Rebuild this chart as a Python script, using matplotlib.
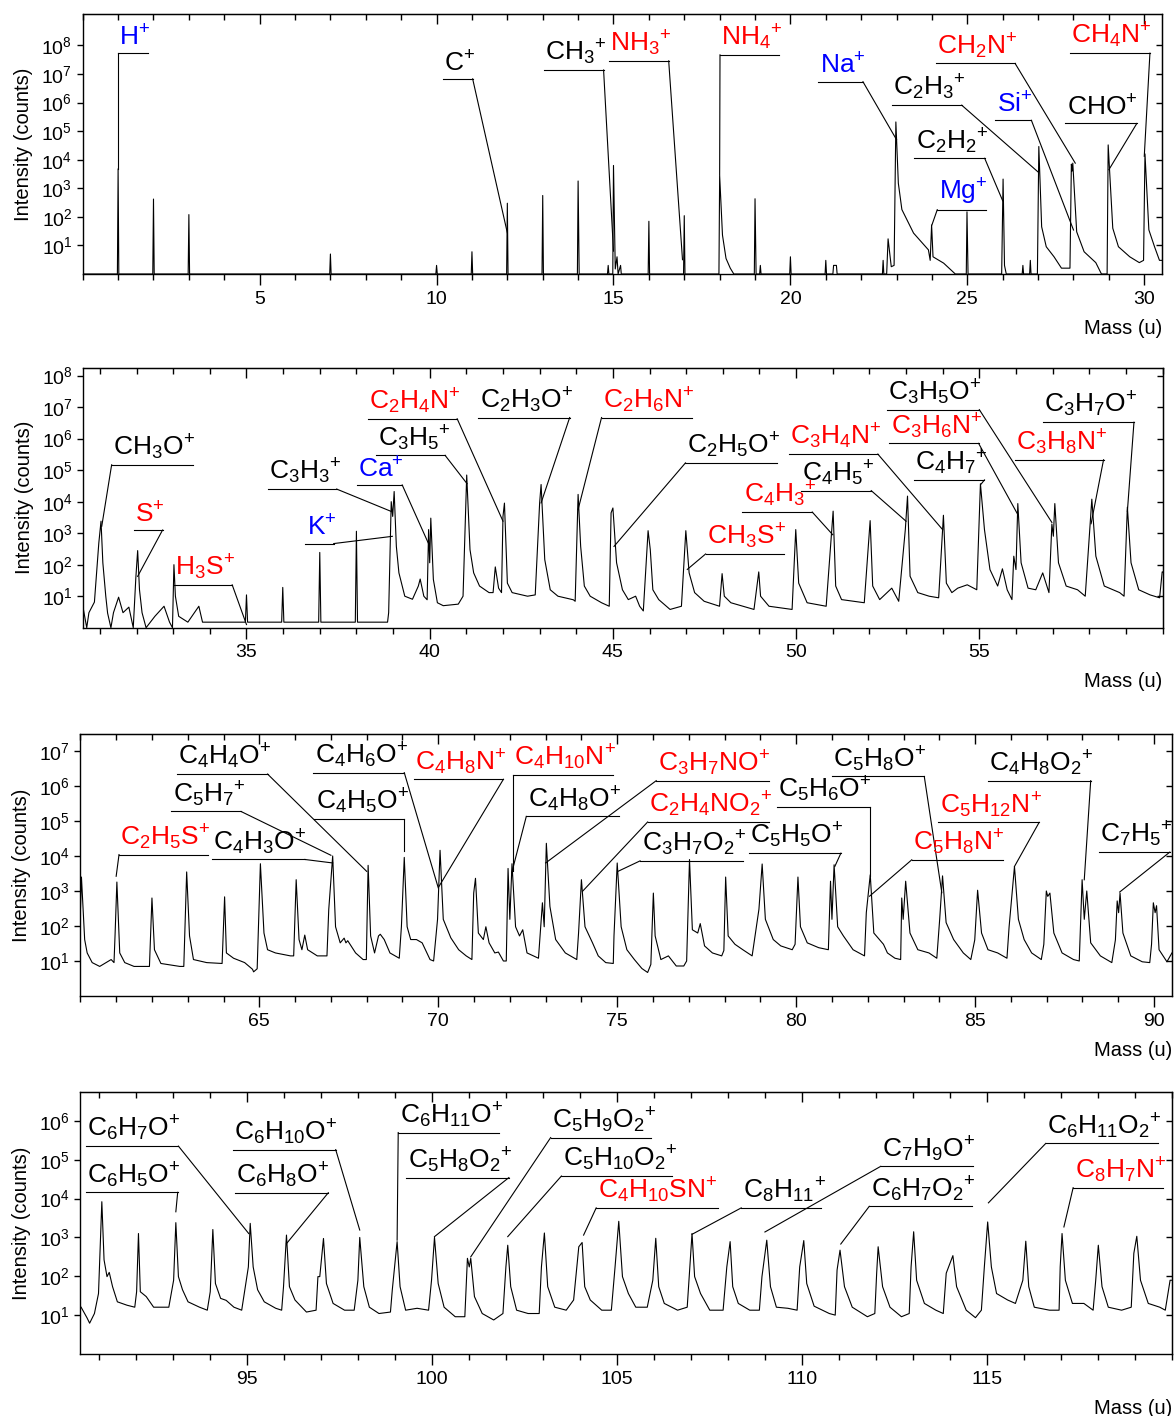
#!/usr/bin/env python
# -*- coding: utf-8 -*-

"""
plot.py

Positive ion mass spectrum, split into four mass windows (0 - 120 u).
Peaks are labelled with the assigned ions: blue = elements, red = ions
containing N or S, black = hydrocarbons / oxygenated ions.
Saves the figure as out.png.
"""
# ~~~~~~~~~~~~~~~~~~~~~~~~~~~~~~~~~~~~~~~~~~~~~~~~~~~~~~~~~~~~~~~~~~~~~~~~~~~~ #
# ~~~ 1) Imports ~~~~~~~~~~~~~~~~~~~~~~~~~~~~~~~~~~~~~~~~~~~~~~~~~~~~~~~~~~~~~ #
import matplotlib
matplotlib.use('Agg')
import matplotlib.pyplot as plt
import numpy as np
from matplotlib.ticker import FixedLocator, LogFormatterMathtext, NullLocator

plt.rcParams['font.family'] = ['Liberation Sans', 'DejaVu Sans']
plt.rcParams['mathtext.fontset'] = 'custom'
plt.rcParams['mathtext.rm'] = 'Liberation Sans'
plt.rcParams['mathtext.it'] = 'Liberation Sans:italic'
plt.rcParams['mathtext.bf'] = 'Liberation Sans:bold'
plt.rcParams['mathtext.default'] = 'regular'


# ~~~~~~~~~~~~~~~~~~~~~~~~~~~~~~~~~~~~~~~~~~~~~~~~~~~~~~~~~~~~~~~~~~~~~~~~~~~~ #
# ~~~ 2) Spectrum traces (mass in u, intensity in counts) ~~~~~~~~~~~~~~~~~~~~ #
P1_TRACE = [
    (0.0, 1), (0.98, 1), (1.0, 4800), (1.02, 1), (1.98, 1), (2.0, 420),
    (2.02, 1), (2.98, 1), (3.0, 120), (3.02, 1), (6.98, 1), (7.0, 5),
    (7.02, 1), (9.98, 1), (10.0, 2), (10.02, 1), (10.98, 1), (11.0, 6),
    (11.02, 1), (11.98, 1), (12.0, 300), (12.02, 1), (12.98, 1), (13.0, 560),
    (13.02, 1), (13.98, 1), (14.0, 1800), (14.03, 1), (14.83, 1), (14.85, 2),
    (14.87, 1), (14.98, 1), (15.0, 6300), (15.05, 1.5), (15.1, 4), (15.13, 1),
    (15.2, 2), (15.22, 1), (15.98, 1), (16.0, 70), (16.02, 1), (16.98, 1),
    (17.0, 110), (17.02, 1), (17.98, 1), (18.0, 2800), (18.08, 23),
    (18.18, 3.5), (18.3, 1.6), (18.4, 1), (18.98, 1), (19.0, 430), (19.03, 1),
    (19.13, 1), (19.15, 2), (19.17, 1), (19.98, 1), (20.0, 4), (20.02, 1),
    (20.98, 1), (21.0, 3), (21.02, 1), (21.2, 1), (21.22, 2), (21.3, 2),
    (21.32, 1), (22.6, 1), (22.62, 3), (22.64, 1), (22.72, 1), (22.76, 17),
    (22.85, 1.8), (22.93, 2), (22.98, 2.1e5), (23.05, 1500), (23.15, 180),
    (23.48, 27), (23.9, 7), (23.95, 3), (23.99, 52), (24.03, 4), (24.33, 2.4),
    (24.66, 1), (24.97, 1), (24.99, 150), (25.02, 1), (25.97, 1), (26.01, 2100),
    (26.05, 2), (26.1, 1), (26.55, 1), (26.57, 2), (26.59, 1), (26.76, 1),
    (26.78, 3), (26.8, 1), (26.98, 1), (27.02, 2.9e4), (27.1, 45), (27.23, 9),
    (27.45, 4), (27.66, 1.6), (27.9, 1.6), (27.94, 7000), (27.96, 4000),
    (27.98, 7600), (28.09, 30), (28.3, 6), (28.63, 2.5), (28.79, 1),
    (28.95, 1), (28.98, 3.3e4), (29.11, 40), (29.27, 9), (29.59, 4),
    (29.86, 2.5), (29.98, 3), (30.02, 1.6e4), (30.13, 35), (30.29, 9),
    (30.43, 3), (30.5, 3),
]

P2_TRACE = [
    (30.55, 3.8), (30.64, 1), (30.7, 3), (30.85, 6.5), (30.97, 490),
    (31.03, 2400), (31.08, 115), (31.16, 10), (31.21, 2.9), (31.3, 1),
    (31.37, 3), (31.51, 9.3), (31.63, 3), (31.79, 4.5), (31.91, 1),
    (31.98, 38), (32.03, 280), (32.08, 16), (32.15, 3), (32.26, 1),
    (32.5, 2.3), (32.75, 4.8), (32.9, 1.5), (32.98, 1), (33.02, 100),
    (33.06, 10), (33.15, 2.3), (33.4, 1.5), (33.7, 4.8), (33.8, 1.5),
    (34.97, 1.5), (35.0, 11), (35.03, 1.5), (35.96, 1.5), (35.99, 19),
    (36.02, 1.5), (36.97, 1.5), (37.0, 245), (37.03, 1.5), (37.97, 1.5),
    (38.0, 1150), (38.03, 1.5), (38.85, 1.5), (38.88, 3), (38.95, 1e4),
    (38.99, 3400), (39.03, 2.1e4), (39.09, 380), (39.16, 55), (39.32, 10),
    (39.53, 8), (39.69, 21), (39.74, 35), (39.84, 10), (39.93, 7.7),
    (39.97, 1300), (40.0, 115), (40.03, 3000), (40.1, 34), (40.21, 6.2),
    (40.37, 5), (40.78, 5.6), (40.91, 10), (41.01, 7e4), (41.1, 300),
    (41.2, 55), (41.36, 21), (41.62, 13), (41.73, 13), (41.79, 85),
    (41.88, 18), (41.96, 13), (42.0, 3400), (42.04, 9000), (42.12, 26),
    (42.25, 13), (42.67, 10), (42.88, 11), (43.0, 9000), (43.04, 3.5e4),
    (43.14, 145), (43.29, 16), (43.5, 10), (43.92, 7.7), (43.97, 6.9),
    (44.05, 1.7e4), (44.12, 380), (44.22, 21), (44.38, 10), (44.69, 6.2),
    (44.9, 4.8), (44.95, 4400), (45.0, 6300), (45.1, 115), (45.26, 16),
    (45.42, 7.8), (45.62, 10), (45.73, 4.8), (45.83, 3.4), (45.96, 1200),
    (46.02, 300), (46.09, 16), (46.25, 7.8), (46.56, 3.8), (46.87, 4.8),
    (46.99, 1200), (47.08, 55), (47.23, 13), (47.49, 6.9), (47.91, 4.8),
    (47.98, 52), (48.04, 10), (48.22, 6.2), (48.85, 3.8), (48.98, 59),
    (49.03, 10), (49.26, 4.8), (49.89, 3.8), (49.99, 1300), (50.07, 26),
    (50.3, 6.2), (50.82, 4.8), (51.01, 5000), (51.08, 21), (51.24, 7.8),
    (51.86, 6.2), (52.02, 2500), (52.09, 21), (52.28, 7.8), (52.61, 18),
    (52.8, 6.9), (52.98, 1300), (53.04, 1.5e4), (53.11, 43), (53.32, 13),
    (53.63, 10), (53.89, 8.9), (54.02, 3700), (54.1, 26), (54.25, 13),
    (54.41, 18), (54.67, 23), (54.93, 16), (55.03, 3.7e4), (55.14, 1300),
    (55.29, 70), (55.5, 21), (55.63, 74), (55.76, 16), (55.89, 7.8),
    (55.94, 186), (56.0, 70), (56.05, 8700), (56.14, 115), (56.33, 18),
    (56.54, 16), (56.73, 55), (56.9, 13), (56.98, 1950), (57.02, 800),
    (57.06, 8700), (57.16, 115), (57.37, 21), (57.68, 16), (57.89, 10),
    (58.07, 1.2e4), (58.18, 186), (58.41, 21), (58.83, 13), (58.95, 10),
    (59.04, 6700), (59.14, 115), (59.35, 16), (59.66, 11), (59.92, 8.9),
    (59.99, 59), (60.0, 59),
]

P3_TRACE = [
    (60.0, 240), (60.03, 2500), (60.12, 41), (60.19, 17), (60.33, 9),
    (60.54, 7), (60.86, 11), (60.94, 9), (60.97, 58), (61.02, 1800),
    (61.1, 17), (61.24, 9), (61.5, 7), (61.93, 7), (62.0, 630), (62.07, 21),
    (62.25, 8.5), (62.78, 7), (62.89, 7), (62.97, 3500), (63.05, 52),
    (63.16, 11), (63.53, 9), (63.96, 8.5), (64.03, 680), (64.08, 17),
    (64.28, 12), (64.59, 9), (64.81, 5.8), (64.84, 4.9), (64.94, 6),
    (65.03, 6000), (65.13, 63), (65.23, 21), (65.45, 17), (65.87, 14),
    (65.96, 14), (66.03, 2100), (66.11, 41), (66.19, 21), (66.27, 55),
    (66.35, 21), (66.62, 14), (66.89, 14), (66.94, 295), (67.05, 1e4),
    (67.13, 95), (67.26, 33), (67.37, 45), (67.42, 33), (67.47, 38),
    (67.69, 17), (67.9, 11), (67.99, 11), (68.04, 5400), (68.11, 52),
    (68.22, 17), (68.33, 52), (68.38, 58), (68.49, 41), (68.65, 17),
    (68.91, 12), (68.97, 95), (69.05, 9100), (69.13, 95), (69.23, 41),
    (69.39, 41), (69.55, 33), (69.77, 11), (69.87, 10), (69.98, 155),
    (70.05, 1.45e4), (70.14, 155), (70.35, 46), (70.57, 21), (70.78, 14),
    (70.94, 11), (70.99, 870), (71.04, 2300), (71.12, 63), (71.26, 41),
    (71.33, 95), (71.42, 33), (71.58, 17), (71.68, 18), (71.82, 10),
    (71.9, 10), (71.95, 4400), (72.0, 155), (72.06, 6000), (72.16, 95),
    (72.27, 52), (72.36, 78), (72.48, 17), (72.8, 12), (72.91, 460),
    (72.96, 95), (73.02, 2.3e4), (73.12, 360), (73.28, 41), (73.55, 17),
    (73.87, 11), (73.92, 63), (74.0, 2100), (74.1, 95), (74.31, 33),
    (74.47, 14), (74.68, 9), (74.89, 8.5), (74.91, 52), (75.0, 6300),
    (75.11, 95), (75.27, 21), (75.48, 11), (75.69, 6.1), (75.85, 4.7),
    (75.94, 8), (76.01, 870), (76.06, 52), (76.22, 11), (76.43, 14),
    (76.65, 7.2), (76.86, 7.2), (76.94, 10), (77.02, 7900), (77.1, 78),
    (77.25, 63), (77.32, 117), (77.44, 27), (77.66, 17), (77.92, 14),
    (77.98, 20), (78.03, 2500), (78.1, 52), (78.29, 30), (78.51, 21),
    (78.77, 14), (78.96, 300), (79.05, 5900), (79.14, 155), (79.36, 41),
    (79.57, 27), (79.89, 21), (79.97, 30), (80.05, 2500), (80.12, 95),
    (80.31, 33), (80.63, 24), (80.9, 21), (80.96, 1900), (81.0, 155),
    (81.06, 5600), (81.16, 95), (81.32, 52), (81.59, 21), (81.91, 14),
    (81.96, 240), (82.07, 2900), (82.17, 63), (82.44, 30), (82.55, 17),
    (82.76, 12), (82.92, 11), (82.95, 630), (82.99, 155), (83.06, 1900),
    (83.18, 63), (83.4, 21), (83.71, 17), (83.93, 12), (84.01, 155),
    (84.09, 2700), (84.19, 125), (84.4, 41), (84.67, 17), (84.88, 11),
    (84.99, 40), (85.07, 1050), (85.18, 63), (85.36, 21), (85.63, 17),
    (85.89, 12), (85.95, 95), (86.1, 5000), (86.21, 155), (86.37, 41),
    (86.58, 17), (86.85, 11), (86.92, 30), (86.99, 1000), (87.03, 700),
    (87.09, 870), (87.2, 63), (87.43, 17), (87.75, 11), (87.91, 10),
    (87.99, 2100), (88.05, 155), (88.12, 1000), (88.23, 33), (88.5, 14),
    (88.82, 9), (88.92, 40), (88.97, 520), (89.01, 240), (89.05, 870),
    (89.13, 63), (89.35, 14), (89.67, 9.5), (89.88, 9), (89.93, 30),
    (89.98, 460), (90.03, 240), (90.07, 380), (90.14, 21), (90.36, 9.5),
    (90.5, 17),
]

P4_TRACE = [
    (90.52, 16), (90.68, 8.5), (90.75, 6.2), (90.88, 11), (90.99, 36),
    (91.08, 8300), (91.14, 265), (91.22, 98), (91.28, 126), (91.37, 54),
    (91.5, 22), (91.76, 18), (91.97, 16), (92.02, 40), (92.07, 1260),
    (92.12, 40), (92.28, 30), (92.48, 16), (92.89, 16), (93.02, 79),
    (93.08, 2400), (93.15, 98), (93.26, 45), (93.41, 22), (93.72, 16),
    (93.93, 13.4), (94.01, 40), (94.08, 1600), (94.15, 65), (94.29, 27),
    (94.44, 24), (94.65, 16), (94.86, 13.4), (95.04, 174), (95.09, 2300),
    (95.17, 174), (95.29, 45), (95.47, 22), (95.78, 15), (95.94, 13.4),
    (95.99, 54), (96.07, 1150), (96.15, 54), (96.3, 24.5), (96.61, 12),
    (96.87, 13.4), (96.92, 98), (96.97, 98), (97.07, 940), (97.15, 65),
    (97.33, 20), (97.64, 13.4), (97.9, 13.4), (98.0, 79), (98.05, 1000),
    (98.16, 54), (98.31, 16), (98.57, 11), (98.88, 12), (98.93, 45),
    (99.06, 780), (99.14, 54), (99.29, 13.4), (99.6, 15), (99.91, 13.4),
    (99.99, 79), (100.07, 1000), (100.17, 65), (100.33, 16), (100.63, 9.1),
    (100.89, 9.1), (100.96, 290), (101.01, 174), (101.05, 290), (101.15, 30),
    (101.36, 11), (101.67, 7.5), (101.92, 11), (102.0, 174), (102.05, 630),
    (102.13, 54), (102.29, 13.4), (102.6, 11), (102.9, 11), (102.96, 174),
    (103.04, 1300), (103.13, 54), (103.32, 16), (103.63, 13.4), (103.83, 24.5),
    (103.97, 575), (104.06, 740), (104.13, 54), (104.28, 24.5), (104.59, 13.4),
    (104.85, 13.4), (104.95, 174), (105.05, 2600), (105.15, 98), (105.31, 36),
    (105.51, 16), (105.82, 16), (105.97, 79), (106.05, 950), (106.13, 54),
    (106.28, 20), (106.64, 13.4), (106.9, 16), (106.97, 174), (107.03, 1260),
    (107.1, 98), (107.26, 36), (107.51, 13.4), (107.87, 13.4), (107.97, 174),
    (108.06, 780), (108.13, 54), (108.28, 20), (108.59, 13.4), (108.85, 13.4),
    (108.92, 98), (109.05, 850), (109.15, 54), (109.31, 16), (109.62, 15),
    (109.87, 13.4), (109.94, 174), (110.05, 830), (110.13, 65), (110.33, 17),
    (110.74, 11), (110.9, 10), (110.95, 145), (111.03, 470), (111.15, 54),
    (111.36, 16), (111.77, 9.1), (111.97, 11), (112.02, 120), (112.06, 575),
    (112.18, 54), (112.38, 16), (112.69, 9.1), (112.9, 11), (112.95, 174),
    (113.02, 1400), (113.1, 79), (113.31, 20), (113.62, 13.4), (113.82, 11),
    (113.9, 120), (114.08, 340), (114.18, 54), (114.44, 13.4), (114.69, 8.6),
    (114.85, 13.4), (114.93, 174), (115.02, 2500), (115.12, 174), (115.26, 36),
    (115.56, 24.5), (115.77, 20), (115.97, 79), (116.05, 800), (116.13, 54),
    (116.28, 16), (116.69, 13.4), (116.95, 13.4), (116.98, 174), (117.03, 1260),
    (117.12, 79), (117.31, 20), (117.62, 20), (117.87, 13.4), (117.94, 79),
    (118.01, 630), (118.11, 54), (118.28, 16), (118.64, 13.4), (118.9, 16),
    (118.97, 390), (119.05, 1070), (119.15, 79), (119.36, 20), (119.67, 16),
    (119.82, 13.4), (119.95, 79), (120.0, 79),
]


# ~~~~~~~~~~~~~~~~~~~~~~~~~~~~~~~~~~~~~~~~~~~~~~~~~~~~~~~~~~~~~~~~~~~~~~~~~~~~ #
# ~~~ 3) Ion assignments (name, class) ~~~~~~~~~~~~~~~~~~~~~~~~~~~~~~~~~~~~~~~ #
# class: 'el' = element, 'ns' = contains N or S, 'ch' = CxHy / CxHyOz
P1_IONS = [
    ('H$^{+}$', 'el'), ('C$^{+}$', 'ch'), ('CH$_3$$^{+}$', 'ch'),
    ('NH$_3$$^{+}$', 'ns'), ('NH$_4$$^{+}$', 'ns'), ('Na$^{+}$', 'el'),
    ('C$_2$H$_3$$^{+}$', 'ch'), ('C$_2$H$_2$$^{+}$', 'ch'), ('Mg$^{+}$', 'el'),
    ('Si$^{+}$', 'el'), ('CH$_2$N$^{+}$', 'ns'), ('CHO$^{+}$', 'ch'),
    ('CH$_4$N$^{+}$', 'ns'),
]
P2_IONS = [
    ('CH$_3$O$^{+}$', 'ch'), ('S$^{+}$', 'ns'), ('H$_3$S$^{+}$', 'ns'),
    ('C$_3$H$_3$$^{+}$', 'ch'), ('K$^{+}$', 'el'), ('Ca$^{+}$', 'el'),
    ('C$_3$H$_5$$^{+}$', 'ch'), ('C$_2$H$_4$N$^{+}$', 'ns'),
    ('C$_2$H$_3$O$^{+}$', 'ch'), ('C$_2$H$_6$N$^{+}$', 'ns'),
    ('C$_2$H$_5$O$^{+}$', 'ch'), ('CH$_3$S$^{+}$', 'ns'),
    ('C$_4$H$_3$$^{+}$', 'ns'), ('C$_4$H$_5$$^{+}$', 'ch'),
    ('C$_3$H$_4$N$^{+}$', 'ns'), ('C$_4$H$_7$$^{+}$', 'ch'),
    ('C$_3$H$_6$N$^{+}$', 'ns'), ('C$_3$H$_5$O$^{+}$', 'ch'),
    ('C$_3$H$_8$N$^{+}$', 'ns'), ('C$_3$H$_7$O$^{+}$', 'ch'),
]
P3_IONS = [
    ('C$_2$H$_5$S$^{+}$', 'ns'), ('C$_4$H$_3$O$^{+}$', 'ch'),
    ('C$_5$H$_7$$^{+}$', 'ch'), ('C$_4$H$_4$O$^{+}$', 'ch'),
    ('C$_4$H$_5$O$^{+}$', 'ch'), ('C$_4$H$_6$O$^{+}$', 'ch'),
    ('C$_4$H$_8$N$^{+}$', 'ns'), ('C$_4$H$_{10}$N$^{+}$', 'ns'),
    ('C$_4$H$_8$O$^{+}$', 'ch'), ('C$_3$H$_7$NO$^{+}$', 'ns'),
    ('C$_2$H$_4$NO$_2$$^{+}$', 'ns'), ('C$_3$H$_7$O$_2$$^{+}$', 'ch'),
    ('C$_5$H$_5$O$^{+}$', 'ch'), ('C$_5$H$_6$O$^{+}$', 'ch'),
    ('C$_5$H$_8$O$^{+}$', 'ch'), ('C$_5$H$_{12}$N$^{+}$', 'ns'),
    ('C$_5$H$_8$N$^{+}$', 'ns'), ('C$_4$H$_8$O$_2$$^{+}$', 'ch'),
    ('C$_7$H$_5$$^{+}$', 'ch'),
]
P4_IONS = [
    ('C$_6$H$_7$O$^{+}$', 'ch'), ('C$_6$H$_5$O$^{+}$', 'ch'),
    ('C$_6$H$_{10}$O$^{+}$', 'ch'), ('C$_6$H$_8$O$^{+}$', 'ch'),
    ('C$_6$H$_{11}$O$^{+}$', 'ch'), ('C$_5$H$_8$O$_2$$^{+}$', 'ch'),
    ('C$_5$H$_9$O$_2$$^{+}$', 'ch'), ('C$_5$H$_{10}$O$_2$$^{+}$', 'ch'),
    ('C$_4$H$_{10}$SN$^{+}$', 'ns'), ('C$_8$H$_{11}$$^{+}$', 'ch'),
    ('C$_7$H$_9$O$^{+}$', 'ch'), ('C$_6$H$_7$O$_2$$^{+}$', 'ch'),
    ('C$_6$H$_{11}$O$_2$$^{+}$', 'ch'), ('C$_8$H$_7$N$^{+}$', 'ns'),
]


# ~~~~~~~~~~~~~~~~~~~~~~~~~~~~~~~~~~~~~~~~~~~~~~~~~~~~~~~~~~~~~~~~~~~~~~~~~~~~ #
# ~~~ 4) Label layout ~~~~~~~~~~~~~~~~~~~~~~~~~~~~~~~~~~~~~~~~~~~~~~~~~~~~~~~~ #
# underline x0, x1 (u), underline height (log10), leader side,
# leader end mass, leader end height (log10)
P1_LAYOUT = [
    (1.0, 1.85, 7.73, 'L', 1.0, 3.68), (10.18, 11.02, 6.83, 'R', 12.0, 1.44),
    (13.03, 14.72, 7.14, 'R', 15.0, 0.8), (14.87, 16.56, 7.46, 'R', 16.95, 0.5),
    (18.01, 19.69, 7.67, 'L', 18.0, 3.47), (20.79, 22.05, 6.73, 'R', 23.0, 4.7),
    (22.86, 24.84, 5.91, 'R', 27.0, 3.57), (23.5, 25.49, 4.05, 'R', 26.0, 2.56),
    (24.15, 25.52, 2.25, 'L', 24.0, 1.72), (25.79, 26.81, 5.38, 'R', 28.0, 1.54),
    (24.11, 26.35, 7.37, 'R', 28.05, 3.88), (27.77, 29.79, 5.27, 'R', 29.0, 3.65),
    (27.9, 30.16, 7.73, 'R', 30.0, 4.12),
]
P2_LAYOUT = [
    (31.32, 33.54, 5.17, 'L', 31.05, 3.22), (31.92, 32.71, 3.1, 'R', 32.03, 1.63),
    (33.02, 34.61, 1.36, 'R', 35.0, 0.1), (35.58, 37.46, 4.4, 'R', 38.95, 3.69),
    (36.6, 37.38, 2.67, 'R', 38.98, 2.9), (38.01, 39.25, 4.53, 'R', 39.96, 2.69),
    (38.54, 40.42, 5.47, 'R', 41.02, 4.57), (38.31, 40.75, 6.63, 'R', 42.0, 3.38),
    (41.33, 43.82, 6.67, 'R', 43.04, 3.96), (44.69, 47.15, 6.67, 'L', 44.05, 3.75),
    (46.98, 49.47, 5.23, 'L', 45.03, 2.58), (47.53, 49.68, 2.34, 'L', 47.03, 1.85),
    (48.53, 50.44, 3.67, 'R', 51.0, 2.95), (50.12, 52.05, 4.35, 'R', 53.0, 3.38),
    (49.8, 52.23, 5.51, 'R', 54.0, 3.11), (53.21, 55.14, 4.69, 'R', 55.05, 4.56),
    (52.54, 54.98, 5.85, 'R', 56.05, 3.59), (52.48, 55.0, 6.92, 'R', 56.98, 3.34),
    (55.97, 58.39, 5.33, 'R', 58.05, 3.3), (56.73, 59.22, 6.52, 'R', 59.04, 3.69),
]
P3_LAYOUT = [
    (61.08, 63.58, 4.04, 'L', 61.0, 3.42), (63.67, 66.27, 3.9, 'R', 67.05, 3.8),
    (62.54, 64.49, 5.27, 'R', 67.0, 4.02), (62.7, 65.23, 6.34, 'R', 68.0, 3.56),
    (66.54, 69.04, 5.05, 'R', 69.04, 4.13), (66.51, 69.05, 6.38, 'R', 70.0, 3.09),
    (69.32, 71.82, 6.19, 'R', 70.02, 3.13), (72.08, 74.89, 6.32, 'L', 72.08, 3.56),
    (72.46, 75.05, 5.13, 'L', 72.05, 3.51), (76.09, 79.25, 6.15, 'L', 73.0, 3.8),
    (75.85, 79.25, 4.97, 'L', 74.03, 2.99), (75.64, 78.51, 3.86, 'L', 75.02, 3.56),
    (78.67, 81.25, 4.08, 'R', 81.08, 3.7), (79.46, 82.05, 5.4, 'R', 82.05, 3.42),
    (81.0, 83.58, 6.27, 'R', 84.07, 2.95), (83.97, 86.79, 4.96, 'R', 86.1, 3.7),
    (83.23, 85.78, 3.89, 'L', 82.05, 2.85), (85.36, 88.23, 6.15, 'R', 88.05, 3.32),
    (88.46, 90.44, 4.11, 'R', 89.04, 2.97),
]
P4_LAYOUT = [
    (90.65, 93.15, 5.35, 'R', 95.05, 3.1), (90.65, 93.13, 4.16, 'R', 93.08, 3.66),
    (94.62, 97.4, 5.26, 'R', 98.05, 3.19), (94.68, 97.2, 4.15, 'R', 96.07, 2.84),
    (99.09, 101.82, 5.7, 'L', 99.06, 2.93), (99.31, 102.08, 4.54, 'R', 100.07, 3.02),
    (103.21, 105.92, 5.57, 'L', 101.05, 2.5), (103.5, 106.49, 4.58, 'L', 102.05, 3.02),
    (104.44, 107.72, 3.76, 'L', 104.1, 3.06), (108.36, 110.52, 3.76, 'L', 107.03, 3.08),
    (112.13, 114.62, 4.83, 'L', 109.0, 3.14), (111.82, 114.59, 3.8, 'L', 111.05, 2.83),
    (116.59, 119.62, 5.42, 'L', 115.04, 3.89), (117.33, 119.77, 4.28, 'L', 117.08, 3.27),
]

CLASS_COLORS = {'el': '#0000ff', 'ns': '#ff0000', 'ch': '#000000'}

# axes rectangle, mass window, top of y axis (log10), labelled x ticks,
# labelled decades
PANELS = [
    dict(rect=[0.0704, 0.8065, 0.9185, 0.1836], xlim=(0, 30.5), ytop=9.1,
         xmajor=[5, 10, 15, 20, 25, 30], decades=range(1, 9),
         trace=P1_TRACE, ions=P1_IONS, layout=P1_LAYOUT),
    dict(rect=[0.0710, 0.5567, 0.9184, 0.1836], xlim=(30.55, 60), ytop=8.25,
         xmajor=[35, 40, 45, 50, 55], decades=range(1, 9),
         trace=P2_TRACE, ions=P2_IONS, layout=P2_LAYOUT),
    dict(rect=[0.0684, 0.2966, 0.9290, 0.1852], xlim=(60, 90.5), ytop=7.49,
         xmajor=[65, 70, 75, 80, 85, 90], decades=range(1, 8),
         trace=P3_TRACE, ions=P3_IONS, layout=P3_LAYOUT),
    dict(rect=[0.0684, 0.0438, 0.9290, 0.1852], xlim=(90.5, 120), ytop=6.75,
         xmajor=[95, 100, 105, 110, 115], decades=range(1, 7),
         trace=P4_TRACE, ions=P4_IONS, layout=P4_LAYOUT),
]


# ~~~~~~~~~~~~~~~~~~~~~~~~~~~~~~~~~~~~~~~~~~~~~~~~~~~~~~~~~~~~~~~~~~~~~~~~~~~~ #
# ~~~ 5) Drawing ~~~~~~~~~~~~~~~~~~~~~~~~~~~~~~~~~~~~~~~~~~~~~~~~~~~~~~~~~~~~~ #
def drawLabels(ax, ions, layout):
    """
    Ion name on top of an underline, thin leader from one end of the
    underline down to the peak.
    """
    for (name, cls), (x0, x1, y, side, tx, ty) in zip(ions, layout):
        yl = 10.0 ** y
        ax.plot([x0, x1], [yl, yl], color='k', lw=0.8)
        xe = x0 if side == 'L' else x1
        ax.plot([xe, tx], [yl, 10.0 ** ty], color='k', lw=0.8)
        ax.annotate(name, xy=(x0, yl), xytext=(1, 2),
                    textcoords='offset points', fontsize=19,
                    color=CLASS_COLORS[cls], ha='left', va='bottom')


def drawPanel(fig, p):
    """
    One mass window: log intensity axis, ticks out on bottom/left and in on
    top/right like the original Origin plot.
    """
    mass, counts = np.array(p['trace']).T
    ax = fig.add_axes(p['rect'])
    ax.plot(mass, counts, color='k', lw=0.8)
    drawLabels(ax, p['ions'], p['layout'])

    ax.set_yscale('log')
    ax.set_xlim(*p['xlim'])
    ax.set_ylim(1, 10.0 ** p['ytop'])

    minor = list(range(int(np.ceil(p['xlim'][0])),
                       int(np.floor(p['xlim'][1])) + 1))
    yticks = [10.0 ** d for d in p['decades']]
    ax.xaxis.set_major_locator(FixedLocator(p['xmajor']))
    ax.xaxis.set_minor_locator(FixedLocator(minor))
    ax.yaxis.set_major_locator(FixedLocator(yticks))
    ax.yaxis.set_major_formatter(LogFormatterMathtext())
    ax.yaxis.set_minor_locator(NullLocator())

    ax.tick_params(axis='x', which='major', direction='out', length=8,
                   width=1, labelsize=14, pad=4)
    ax.tick_params(axis='x', which='minor', direction='out', length=4.5,
                   width=1)
    ax.tick_params(axis='y', which='major', direction='out', length=4.5,
                   width=1, labelsize=14, pad=3)
    for s in ax.spines.values():
        s.set_linewidth(1.0)

    top = ax.secondary_xaxis('top')
    top.set_ticks(p['xmajor'])
    top.set_ticks(minor, minor=True)
    top.tick_params(which='major', direction='in', length=7, width=1,
                    labeltop=False)
    top.tick_params(which='minor', direction='in', length=4, width=1)

    right = ax.secondary_yaxis('right')
    right.set_ticks(yticks)
    right.tick_params(which='major', direction='in', length=4.5, width=1,
                      labelright=False)
    right.tick_params(which='minor', length=0)

    ax.set_ylabel('Intensity (counts)', fontsize=14.5, labelpad=6)
    ax.set_xlabel('Mass (u)', fontsize=14.5, loc='right', labelpad=8)
    return ax


# ~~~~~~~~~~~~~~~~~~~~~~~~~~~~~~~~~~~~~~~~~~~~~~~~~~~~~~~~~~~~~~~~~~~~~~~~~~~~ #
# ~~~ 6) Main Function ~~~~~~~~~~~~~~~~~~~~~~~~~~~~~~~~~~~~~~~~~~~~~~~~~~~~~~~ #
def main():
    fig = plt.figure(figsize=(11.75, 14.16), dpi=100)
    for p in PANELS:
        drawPanel(fig, p)
    fig.savefig('out.png', dpi=100)


if __name__ == '__main__':
    main()
